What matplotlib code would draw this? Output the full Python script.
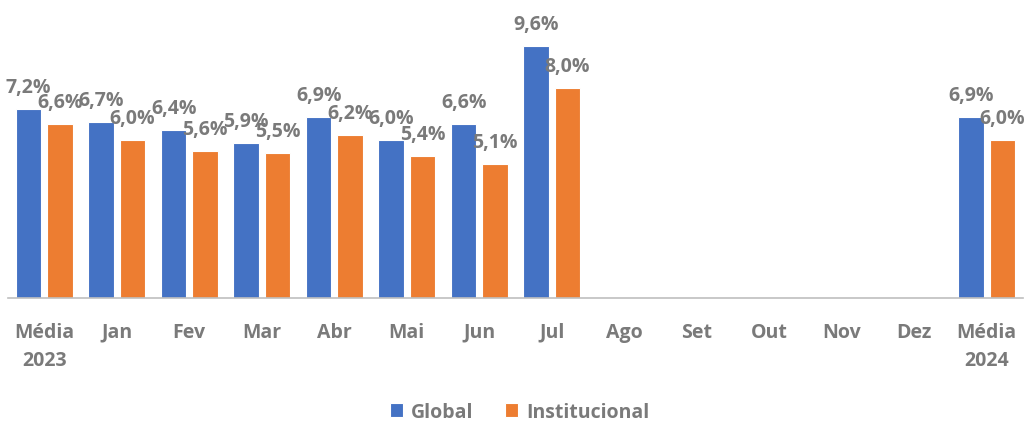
import numpy as np
import matplotlib
matplotlib.use('Agg')
import matplotlib.pyplot as plt

categories = ['Média\n2023', 'Jan', 'Fev', 'Mar', 'Abr', 'Mai', 'Jun', 'Jul',
              'Ago', 'Set', 'Out', 'Nov', 'Dez', 'Média\n2024']
global_vals = [7.2, 6.7, 6.4, 5.9, 6.9, 6.0, 6.6, 9.6,
               np.nan, np.nan, np.nan, np.nan, np.nan, 6.9]
inst_vals = [6.6, 6.0, 5.6, 5.5, 6.2, 5.4, 5.1, 8.0,
             np.nan, np.nan, np.nan, np.nan, np.nan, 6.0]

blue = '#4472C4'
orange = '#ED7D31'
gray = '#7A7A7A'

plt.rcParams['font.family'] = ['Open Sans', 'DejaVu Sans']

fig = plt.figure(figsize=(10.29, 4.27), dpi=100)
ax = fig.add_axes([8 / 1029, 128 / 427, 1015 / 1029, 299 / 427])

x = np.arange(len(categories))
w = 0.35
off = 0.215
b1 = ax.bar(x - off, global_vals, w, color=blue, edgecolor='white', linewidth=0.8, label='Global')
b2 = ax.bar(x + off, inst_vals, w, color=orange, edgecolor='white', linewidth=0.8, label='Institucional')

for xs, vals in [(x - off, global_vals), (x + off, inst_vals)]:
    for xi, v in zip(xs, vals):
        if np.isnan(v):
            continue
        ax.annotate('{:.1f}%'.format(v).replace('.', ','), (xi, v), xytext=(0, 22),
                    textcoords='offset pixels', ha='center', va='center',
                    fontsize=14, fontweight='bold', color=gray)

ax.set_xlim(-0.5, len(categories) - 0.5)
ax.set_ylim(0, 299 / 26.3)
ax.set_xticks(x)
ax.set_xticklabels(categories, fontsize=14, fontweight='bold', color=gray, linespacing=1.55)
ax.tick_params(axis='x', length=0, pad=17)
ax.set_yticks([])
for s in ['top', 'right', 'left']:
    ax.spines[s].set_visible(False)
ax.spines['bottom'].set_color('#BFBFBF')
ax.spines['bottom'].set_linewidth(1.2)

leg = fig.legend(handles=[b1, b2], loc='center', bbox_to_anchor=(0.505, 14 / 427), ncol=2,
                 frameon=False, handlelength=0.7, handleheight=0.7, handletextpad=0.4,
                 columnspacing=1.6, prop={'size': 14, 'weight': 'bold'})
for t in leg.get_texts():
    t.set_color(gray)

fig.savefig('out.png', dpi=100)
